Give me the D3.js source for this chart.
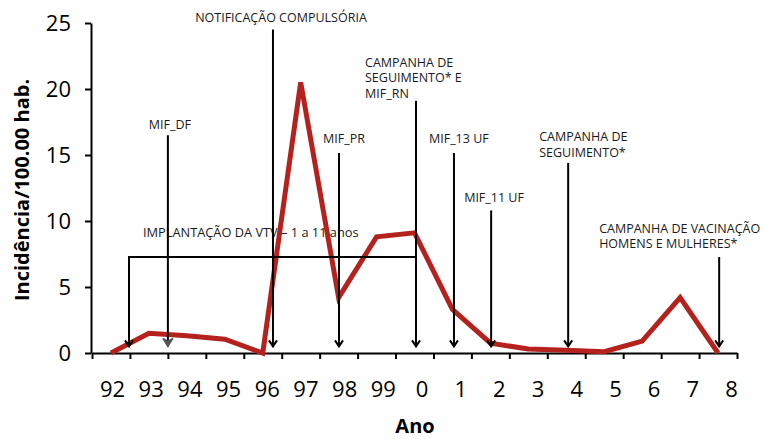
<!DOCTYPE html>
<html>
<head>
<meta charset="utf-8">
<script src="https://cdn.jsdelivr.net/npm/d3@7"></script>
<style>
  body { margin: 0; background: #fff; }
  text { font-family: "Open Sans", sans-serif; }
</style>
</head>
<body>
<div id="canvas"></div>
<script>
// dados
let anos = ["92", "93", "94", "95", "96", "97", "98", "99", "0", "1", "2", "3", "4", "5", "6", "7", "8"];
let incidencia = [0, 1.5, 1.3, 1.05, 0, 20.5, 4.2, 8.8, 9.1, 3.3, 0.75, 0.3, 0.2, 0.1, 0.9, 4.2, 0];
let ticksY = [0, 5, 10, 15, 20, 25];

// eventos: posicao no eixo (indice de ano) e topo da linha (valor de incidencia)
let eventos = [
  { pos: 4.77, topo: 24.5, linhas: ["NOTIFICAÇÃO COMPULSÓRIA"], ancora: "middle", dx: 8, dy: -8 },
  { pos: 2.0, topo: 16.5, linhas: ["MIF_DF"], ancora: "middle", dx: 2, dy: -6, cinza: true },
  { pos: 6.51, topo: 15.15, linhas: ["MIF_PR"], ancora: "middle", dx: 5, dy: -10 },
  { pos: 8.54, topo: 19.1, linhas: ["CAMPANHA DE", "SEGUIMENTO* E", "MIF_RN"], ancora: "start", dx: -51, dy: -3 },
  { pos: 9.54, topo: 15.15, linhas: ["MIF_13 UF"], ancora: "start", dx: -25, dy: -10 },
  { pos: 10.52, topo: 10.8, linhas: ["MIF_11 UF"], ancora: "start", dx: -27, dy: -8 },
  { pos: 12.55, topo: 14.4, linhas: ["CAMPANHA DE", "SEGUIMENTO*"], ancora: "start", dx: -29, dy: -6 },
  { pos: 16.53, topo: 7.27, linhas: ["CAMPANHA DE VACINAÇÃO", "HOMENS E MULHERES*"], ancora: "start", dx: -120, dy: -9 }
];
let implantacao = { texto: "IMPLANTAÇÃO DA VTV – 1 a 11 anos", inicio: 0.975, fim: 8.54, nivel: 7.27 };

let width = 765;
let height = 439;

let escalaX = d3.scaleLinear().domain([0, anos.length]).range([92, 737]);
let escalaRotulo = d3.scalePoint().domain(anos).range([112, 731]);
let escalaY = d3.scaleLinear().domain([0, 25]).range([353, 23]);

let svg = d3.select("#canvas")
  .append("svg")
  .attr("width", width)
  .attr("height", height);

let defs = svg.append("defs");
defs.append("marker")
  .attr("id", "seta")
  .attr("markerUnits", "userSpaceOnUse")
  .attr("viewBox", "-10 -6 12 12")
  .attr("markerWidth", 12).attr("markerHeight", 12)
  .attr("orient", "auto")
  .append("path")
  .attr("d", "M-6,-4L0,0L-6,4")
  .attr("fill", "none")
  .attr("stroke", "#000")
  .attr("stroke-width", 2);
defs.append("marker")
  .attr("id", "setaCinza")
  .attr("markerUnits", "userSpaceOnUse")
  .attr("viewBox", "-10 -6 12 12")
  .attr("markerWidth", 12).attr("markerHeight", 12)
  .attr("orient", "auto")
  .append("path")
  .attr("d", "M-8,-5L0,0L-8,5L-5,0Z")
  .attr("fill", "#555")
  .attr("stroke", "#555")
  .attr("stroke-width", 1.5);

// eixo x
let ejeX = d3.axisBottom(escalaX)
  .tickValues(d3.range(anos.length + 1))
  .tickSize(6)
  .tickSizeOuter(0)
  .tickFormat("");
let gX = svg.append("g")
  .attr("transform", "translate(0," + escalaY(0) + ")")
  .call(ejeX);
gX.selectAll("path, line").attr("stroke", "#000").attr("stroke-width", 2);

let rotulosX = d3.axisBottom(escalaRotulo).tickSize(0).tickPadding(28);
let gR = svg.append("g")
  .attr("transform", "translate(0," + escalaY(0) + ")")
  .call(rotulosX);
gR.select(".domain").remove();
gR.selectAll("text")
  .attr("font-family", "Open Sans")
  .attr("font-size", 22)
  .attr("fill", "#000");

// eixo y
let ejeY = d3.axisLeft(escalaY)
  .tickValues(ticksY)
  .tickSize(6)
  .tickSizeOuter(0)
  .tickPadding(14);
let gY = svg.append("g")
  .attr("transform", "translate(91,0)")
  .call(ejeY);
gY.selectAll("path, line").attr("stroke", "#000").attr("stroke-width", 2);
gY.selectAll("text")
  .attr("font-family", "Open Sans")
  .attr("font-size", 22)
  .attr("fill", "#000");

// titulos
svg.append("text")
  .attr("transform", "translate(29,190) rotate(-90)")
  .attr("text-anchor", "middle")
  .attr("font-size", 20)
  .attr("font-weight", "bold")
  .text("Incidência/100.00 hab.");
svg.append("text")
  .attr("x", 415).attr("y", 433)
  .attr("text-anchor", "middle")
  .attr("font-size", 20)
  .attr("font-weight", "bold")
  .text("Ano");

// implantacao da VTV
svg.append("text")
  .attr("x", escalaX(implantacao.inicio) + 14)
  .attr("y", 237)
  .attr("font-size", 12.8)
  .attr("fill", "#1a1a1a")
  .text(implantacao.texto);

// linha de incidencia
let linea = d3.line()
  .x((d, i) => escalaX(i + 0.5))
  .y(d => escalaY(d));
svg.append("path")
  .datum(incidencia)
  .attr("d", linea)
  .attr("fill", "none")
  .attr("stroke", "#b5221d")
  .attr("stroke-width", 5)
  .attr("stroke-linejoin", "miter");

svg.append("path")
  .attr("d", "M" + escalaX(implantacao.fim) + "," + escalaY(implantacao.nivel) +
    "L" + escalaX(implantacao.inicio) + "," + escalaY(implantacao.nivel) +
    "L" + escalaX(implantacao.inicio) + "," + escalaY(0.5))
  .attr("fill", "none")
  .attr("stroke", "#000")
  .attr("stroke-width", 2)
  .attr("marker-end", "url(#seta)");

// eventos
let gE = svg.selectAll("g.evento")
  .data(eventos)
  .enter()
  .append("g")
  .attr("class", "evento");

gE.append("line")
  .attr("x1", d => escalaX(d.pos))
  .attr("x2", d => escalaX(d.pos))
  .attr("y1", d => escalaY(d.topo))
  .attr("y2", escalaY(0.5))
  .attr("stroke", "#000")
  .attr("stroke-width", 2)
  .attr("marker-end", d => d.cinza ? "url(#setaCinza)" : "url(#seta)");

gE.each(function (d) {
  let n = d.linhas.length;
  d3.select(this).selectAll("text")
    .data(d.linhas)
    .enter()
    .append("text")
    .attr("x", escalaX(d.pos) + d.dx)
    .attr("y", (t, i) => escalaY(d.topo) + d.dy - (n - 1 - i) * 15.5)
    .attr("text-anchor", d.ancora)
    .attr("font-size", 12.5)
    .attr("fill", "#1a1a1a")
    .text(t => t);
});
</script>
</body>
</html>
